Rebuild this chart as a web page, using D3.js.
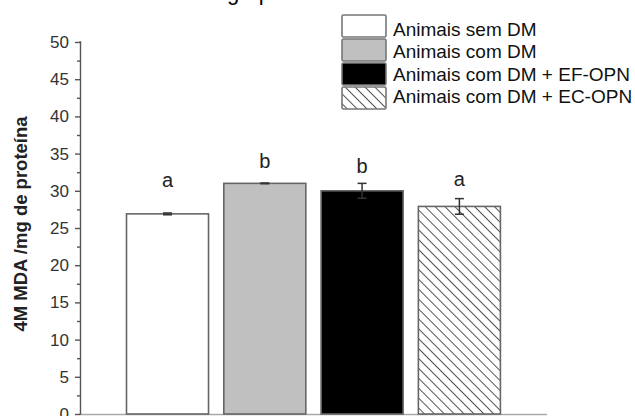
<!DOCTYPE html>
<html>
<head>
<meta charset="utf-8">
<script src="https://cdn.jsdelivr.net/npm/d3@7"></script>
<style>
  html, body { margin: 0; padding: 0; background: #fff; overflow: hidden; }
  svg { display: block; font-family: "Liberation Sans", Arial, sans-serif; }
</style>
</head>
<body>
<svg id="chart" width="635" height="416"></svg>
<script>
// ---- data ----
const categories = ["Animais sem DM", "Animais com DM", "Animais com DM + EF-OPN", "Animais com DM + EC-OPN"];
const values = [26.9, 31.0, 30.0, 27.9];
const errors = [0.12, 0.05, 1.0, 1.05];
const letters = ["a", "b", "b", "a"];
const letterAt = [30.5, 33.0, 32.35, 30.65];
const yTicks = [0, 5, 10, 15, 20, 25, 30, 35, 40, 45, 50];
const yMinorTicks = [2.5, 7.5, 12.5, 17.5, 22.5, 27.5, 32.5, 37.5, 42.5, 47.5];
const yTitle = "4M MDA  /mg de proteína";
const titleFragment = "grupos";

const fills = ["#ffffff", "#c0c0c0", "#000000", "url(#hatch)"];

const svg = d3.select("#chart");

// hatch patterns ("\\\" direction)
const defs = svg.append("defs");
const pat = defs.append("pattern")
  .attr("id", "hatch")
  .attr("patternUnits", "userSpaceOnUse")
  .attr("width", 7).attr("height", 7)
  .attr("patternTransform", "rotate(-45)");
pat.append("rect").attr("width", 7).attr("height", 7).attr("fill", "#fff");
pat.append("line").attr("x1", 0).attr("y1", 0).attr("x2", 0).attr("y2", 7)
  .attr("stroke", "#555").attr("stroke-width", 2);

const pat2 = defs.append("pattern")
  .attr("id", "hatchSmall")
  .attr("patternUnits", "userSpaceOnUse")
  .attr("width", 7).attr("height", 7)
  .attr("patternTransform", "rotate(-45)");
pat2.append("rect").attr("width", 7).attr("height", 7).attr("fill", "#fff");
pat2.append("line").attr("x1", 0).attr("y1", 0).attr("x2", 0).attr("y2", 7)
  .attr("stroke", "#555").attr("stroke-width", 2);

// scales
const x = d3.scaleBand().domain(categories).range([126.5, 500.4]).paddingInner(0.157).paddingOuter(0);
const y = d3.scaleLinear().domain([0, 50]).range([414, 42]);

// title fragment (cut off at top, as in the reference)
svg.append("text")
  .attr("x", 227).attr("y", 0)
  .attr("font-size", 22).attr("fill", "#000")
  .text(titleFragment);

// x axis line
svg.append("line")
  .attr("x1", 80).attr("x2", 547)
  .attr("y1", 414.5).attr("y2", 414.5)
  .attr("stroke", "#aaa").attr("stroke-width", 1.5);

// bars
svg.append("g").selectAll("rect")
  .data(categories)
  .join("rect")
  .attr("x", d => x(d))
  .attr("y", (d, i) => y(values[i]))
  .attr("width", x.bandwidth())
  .attr("height", (d, i) => y(0) - y(values[i]))
  .attr("fill", (d, i) => fills[i])
  .attr("stroke", "#666")
  .attr("stroke-width", 1.6);

// error bars
const eg = svg.append("g").attr("stroke", "#333").attr("stroke-width", 1.5);
categories.forEach((c, i) => {
  const cx = x(c) + x.bandwidth() / 2;
  const y1 = y(values[i] + errors[i]), y2 = y(values[i] - errors[i]);
  eg.append("line").attr("x1", cx).attr("x2", cx).attr("y1", y1).attr("y2", y2);
  eg.append("line").attr("x1", cx - 4.5).attr("x2", cx + 4.5).attr("y1", y1).attr("y2", y1);
  eg.append("line").attr("x1", cx - 4.5).attr("x2", cx + 4.5).attr("y1", y2).attr("y2", y2);
});

// significance letters
svg.append("g").selectAll("text")
  .data(categories)
  .join("text")
  .attr("x", d => x(d) + x.bandwidth() / 2)
  .attr("y", (d, i) => y(letterAt[i]))
  .attr("text-anchor", "middle")
  .attr("font-size", 20)
  .attr("fill", "#222")
  .text((d, i) => letters[i]);

// y axis
const yAxis = d3.axisLeft(y).tickValues(yTicks).tickSize(5).tickPadding(6).tickFormat(d3.format("d"));
const ag = svg.append("g").attr("transform", "translate(80,0)").call(yAxis);
ag.select(".domain").attr("stroke", "#555").attr("stroke-width", 1.4).attr("d", `M-0.5,${y(50)}H0.5V${y(0)}H-0.5`);
ag.selectAll(".tick line").attr("stroke", "#555").attr("stroke-width", 1.4);
ag.selectAll(".tick text").attr("font-size", 17).attr("fill", "#333")
  .attr("font-family", "Liberation Sans, Arial, sans-serif");
const yMinor = d3.axisLeft(y).tickValues(yMinorTicks).tickSize(3).tickFormat("");
const mg = svg.append("g").attr("transform", "translate(80,0)").call(yMinor);
mg.select(".domain").remove();
mg.selectAll(".tick line").attr("stroke", "#555").attr("stroke-width", 1.4);

// y title
svg.append("text")
  .attr("transform", `translate(27,${(y(0) + y(50)) / 2 - 4}) rotate(-90)`)
  .attr("text-anchor", "middle")
  .attr("font-size", 18.5)
  .attr("font-weight", "bold")
  .attr("fill", "#222")
  .text(yTitle);

// legend
const legendBoxY = [15, 39, 63, 87];
const legendTextY = [35.7, 58.3, 81, 103.3];
const lg = svg.append("g");
categories.forEach((c, i) => {
  lg.append("rect")
    .attr("x", 342).attr("y", legendBoxY[i])
    .attr("width", 44).attr("height", 22)
    .attr("rx", 1.5)
    .attr("fill", i === 3 ? "url(#hatchSmall)" : fills[i])
    .attr("stroke", "#777").attr("stroke-width", 1.6);
  lg.append("text")
    .attr("x", 393).attr("y", legendTextY[i])
    .attr("font-size", 19)
    .attr("fill", "#111")
    .text(c);
});
</script>
</body>
</html>
